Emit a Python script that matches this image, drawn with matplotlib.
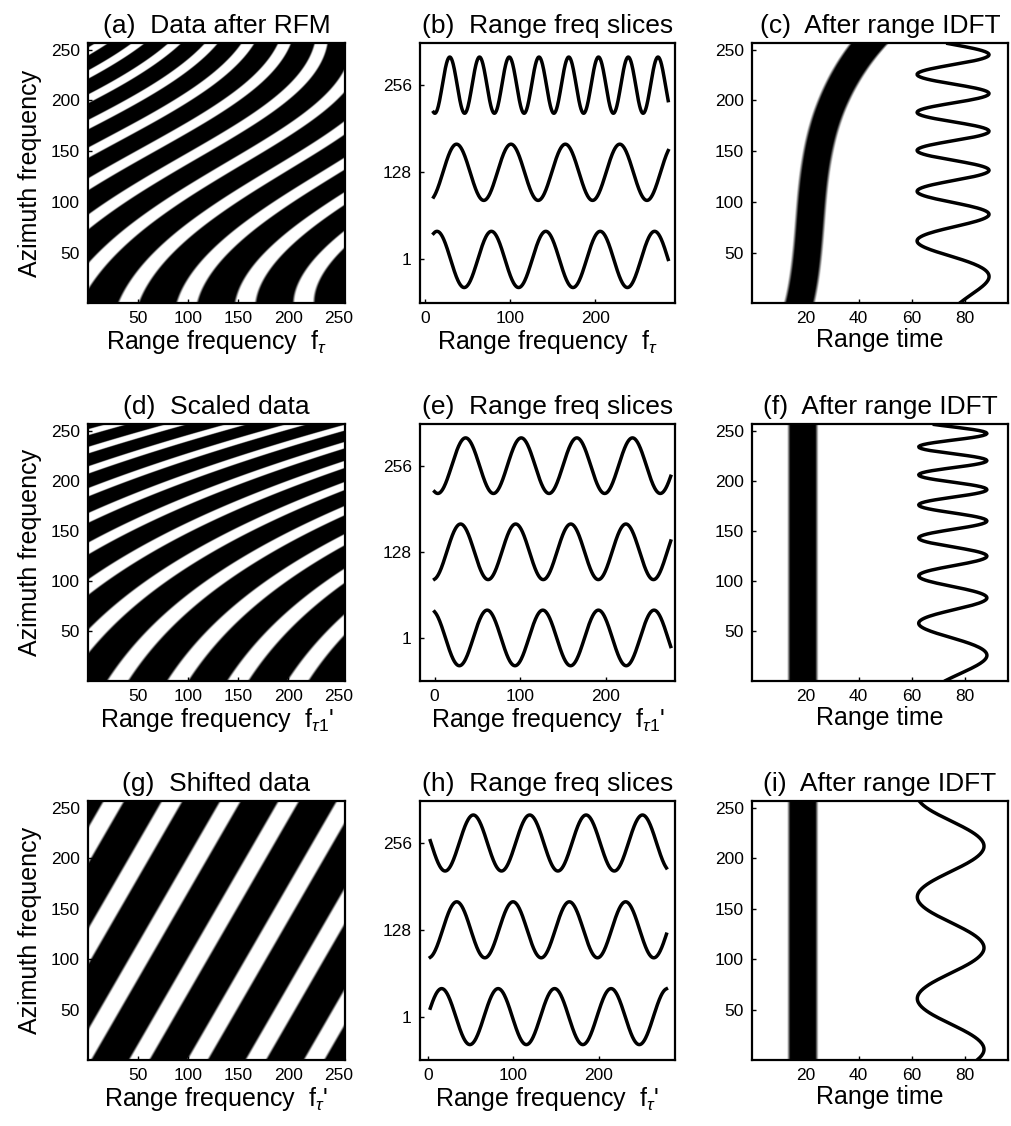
import numpy as np
import matplotlib.pyplot as plt

plt.rcParams['font.family'] = ['Liberation Sans', 'DejaVu Sans']
plt.rcParams['mathtext.fontset'] = 'custom'
plt.rcParams['mathtext.rm'] = 'Liberation Sans'
plt.rcParams['mathtext.it'] = 'Liberation Sans:italic'
plt.rcParams['mathtext.bf'] = 'Liberation Sans:bold'

# ---------------- data ----------------
titles = [["(a)  Data after RFM", "(b)  Range freq slices", "(c)  After range IDFT"],
          ["(d)  Scaled data", "(e)  Range freq slices", "(f)  After range IDFT"],
          ["(g)  Shifted data", "(h)  Range freq slices", "(i)  After range IDFT"]]
freq_labels = [r"Range frequency  $\mathrm{f}_{\tau}$",
               r"Range frequency  $\mathrm{f}_{\tau1}$'",
               r"Range frequency  $\mathrm{f}_{\tau}$'"]

# left column: fringe images (azimuth rows where white stripes cross the left edge,
# and range-direction cycles across the 256 samples)
a_edge_az = [28, 78, 120, 147, 176, 201, 226, 248]
a_cyc_az = [1, 128, 180, 220, 256]
a_cyc = [4.4, 4.6, 5.0, 5.7, 7.0]
d_edge_az = [40, 93, 133, 163, 189, 209, 232, 248]
d_cyc = 4.27
g_edge_az = [12, 112, 212]
g_cyc = 4.4

# middle column: slices at azimuth 1, 128, 256 (first peak, period)
slice_labels = ['1', '128', '256']
b_span, b_peak, b_period = [10, 286], [14, 37, 29], [64, 64, 35]
e_span, e_peak, e_period = [0, 276], [-3.5, 30.4, 36.3], [65, 64.4, 65]
h_span, h_peak, h_period = [3, 279], [16.3, 33.9, 53.3], [66, 65.8, 65.9]

# right column: target trajectory (range time vs azimuth) and azimuth waveform extrema
c_band_az = [0, 50, 100, 150, 200, 225, 245, 256]
c_band_t = [18, 19.8, 22.5, 25.8, 30.5, 34.5, 40, 45]
f_band_az = [0, 256]
f_band_t = [19, 19]
c_wave_az = [27.5, 60, 88, 112, 130, 151, 170, 188, 206, 226, 245]
f_wave_az = [27, 57, 83, 105, 125, 143, 161, 176, 191, 206, 219, 233, 248]
i_wave_az = [10, 62, 112, 162, 211]
wave_mid = [75.4, 75.3, 74.5]
wave_amp = [13.5, 12.8, 12.5]

# ---------------- layout ----------------
W, H = 1012, 1126
fig = plt.figure(figsize=(W / 100, H / 100), dpi=100)
cols = [(88, 345), (420, 675), (752, 1008)]
rows = [(43, 303), (424, 681), (801, 1060)]


def add_ax(r, c):
    x0, x1 = cols[c]
    y0, y1 = rows[r]
    ax = fig.add_axes([x0 / W, 1 - y1 / H, (x1 - x0) / W, (y1 - y0) / H])
    ax.tick_params(direction='in', length=3, width=1, labelsize=12.5, pad=6)
    for s in ax.spines.values():
        s.set_linewidth(1.6)
    ax.set_title(titles[r][c], fontsize=19, pad=7)
    return ax


# ---------------- left column ----------------
g = np.linspace(0.5, 256.5, 512)
rg, az = np.meshgrid(g, g)


def fringe_img(phase):
    c = np.cos(2 * np.pi * phase)
    return np.clip((c - 0.45) * 4 + 0.5, 0, 1)


def edge_cycles(edge_az, az):
    p = np.polyfit(edge_az, np.arange(len(edge_az)), 3)
    return np.polyval(p, az)


a_c = np.polyval(np.polyfit(a_cyc_az, a_cyc, 3), az)
imgs = [
    fringe_img(rg * a_c / 256 - edge_cycles(a_edge_az, az)),
    fringe_img(rg * d_cyc / 256 - edge_cycles(d_edge_az, az)),
    fringe_img(rg * g_cyc / 256 - np.polyval(np.polyfit(g_edge_az, np.arange(3), 1), az)),
]

for r in range(3):
    ax = add_ax(r, 0)
    ax.imshow(imgs[r], cmap='gray', vmin=0, vmax=1, origin='lower',
              extent=(0.5, 256.5, 0.5, 256.5), aspect='auto')
    ax.set_xlim(0.5, 256.5)
    ax.set_ylim(0.5, 256.5)
    ax.set_xticks([50, 100, 150, 200, 250])
    ax.set_yticks([50, 100, 150, 200, 250])
    ax.set_ylabel("Azimuth frequency", fontsize=18, labelpad=6)
    ax.set_xlabel(freq_labels[r], fontsize=18, labelpad=1)

# ---------------- middle column ----------------
offsets = [0, 3.1, 6.2]
mid_sets = [(b_span, b_peak, b_period, (-6, 294)),
            (e_span, e_peak, e_period, (-17, 281)),
            (h_span, h_peak, h_period, (-9, 289))]
for r, (span, peak, period, xl) in enumerate(mid_sets):
    ax = add_ax(r, 1)
    x = np.linspace(span[0], span[1], 600)
    for k in range(3):
        y = offsets[k] + np.cos(2 * np.pi * (x - peak[k]) / period[k])
        ax.plot(x, y, color='black', lw=2.5)
    ax.set_xlim(*xl)
    ax.set_ylim(-1.55, 7.7)
    ax.set_xticks([0, 100, 200])
    ax.set_yticks(offsets)
    ax.set_yticklabels(slice_labels)
    ax.set_xlabel(freq_labels[r], fontsize=18, labelpad=1)

# ---------------- right column ----------------
t = np.linspace(0, 96, 480)
azr = np.arange(1, 257)
band_sets = [(c_band_az, c_band_t), (f_band_az, f_band_t), (f_band_az, f_band_t)]
waves = [(c_wave_az, 3), (f_wave_az, 3), (i_wave_az, 1)]
for r in range(3):
    ax = add_ax(r, 2)
    baz, bt = band_sets[r]
    deg = 3 if len(baz) > 2 else 1
    center = np.polyval(np.polyfit(baz, bt, deg), azr)
    slope = np.gradient(center) * (256 / 96)
    hw = 5.3 * np.sqrt(1 + slope ** 2)
    d = np.abs(t[None, :] - center[:, None]) - hw[:, None]
    band = np.clip(d / 1.2 + 0.5, 0, 1)
    ax.imshow(band, cmap='gray', vmin=0, vmax=1, origin='lower',
              extent=(0, 96, 0.5, 256.5), aspect='auto')
    waz, wdeg = waves[r]
    ph = np.polyval(np.polyfit(waz, np.arange(len(waz)) * np.pi, wdeg), azr)
    ax.plot(wave_mid[r] + wave_amp[r] * np.cos(ph), azr, color='black', lw=2.5)
    ax.set_xlim(0, 96)
    ax.set_ylim(0.5, 256.5)
    ax.set_xticks([20, 40, 60, 80])
    ax.set_yticks([50, 100, 150, 200, 250])
    ax.set_xlabel("Range time", fontsize=18, labelpad=1)

fig.savefig("out.png", dpi=100)
